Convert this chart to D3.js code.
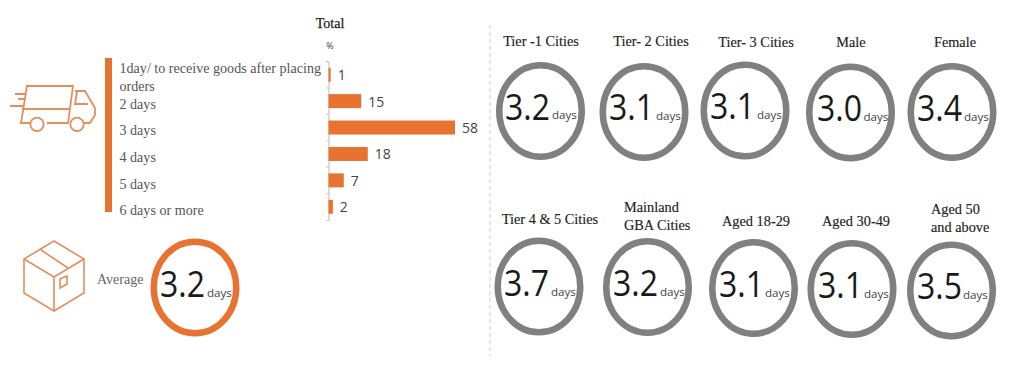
<!DOCTYPE html>
<html><head><meta charset="utf-8">
<script src="https://cdn.jsdelivr.net/npm/d3@7"></script>
<style>html,body{margin:0;background:#fff}svg{display:block}</style></head>
<body><svg id="c" width="1024" height="369"></svg>
<script>
// Data
const categories=["1day/ to receive goods after placing orders","2 days","3 days","4 days","5 days","6 days or more"];
const totals=[1,15,58,18,7,2];
const averageValue="3.2";
const groupNames=["Tier -1 Cities","Tier- 2 Cities","Tier- 3 Cities","Male","Female","Tier 4 & 5 Cities","Mainland GBA Cities","Aged 18-29","Aged 30-49","Aged 50 and above"];
const groupValues=["3.2","3.1","3.1","3.0","3.4","3.7","3.2","3.1","3.1","3.5"];
const unit="days";

// Layout (separate from data)
const orange="#E8722F",grey="#808080",serif="'Liberation Serif',serif",sans="'Open Sans','Noto Sans',sans-serif";
const wrap={"1day/ to receive goods after placing orders":["1day/ to receive goods after placing","orders"],"Mainland GBA Cities":["Mainland","GBA Cities"],"Aged 50 and above":["Aged 50","and above"]};
const ringPos=d3.scaleOrdinal().domain(groupNames).range([
 {cx:540.5,cy:111,nx:505,ny:120,dx:552,dy:119},
 {cx:644,cy:112,nx:609,ny:120,dx:656,dy:120},
 {cx:745,cy:110.5,nx:710,ny:119,dx:757,dy:119},
 {cx:850.5,cy:112.5,nx:817,ny:121,dx:863.5,dy:121},
 {cx:952,cy:112,nx:917,ny:121,dx:964,dy:121},
 {cx:539,cy:286.5,nx:504,ny:296,dx:551,dy:296},
 {cx:647.5,cy:287,nx:613,ny:296,dx:660,dy:296},
 {cx:753.5,cy:288,nx:719,ny:297,dx:765,dy:297},
 {cx:852,cy:289,nx:818,ny:298,dx:864,dy:298},
 {cx:951.5,cy:290.5,nx:917,ny:299,dx:963,dy:299}]);
const labelPos=d3.scaleOrdinal().domain(groupNames).range([
 {x:541,y:[46]},{x:651,y:[46]},{x:756,y:[47]},{x:851,y:[47]},{x:955,y:[47]},
 {x:550,y:[224]},{x:624,y:[212,230],left:true},{x:756,y:[226]},{x:856,y:[226]},{x:931,y:[214,232],left:true}]);
const catY=[[73,91],[109],[135],[162],[189],[215]];

const svg=d3.select("#c");
const x=d3.scaleLinear().domain([0,58]).range([328.5,455]);
const y=d3.scaleBand().domain(categories).range([61.5,220]);

const gAxis=svg.append("g").attr("transform","translate(328.5,0)").call(d3.axisLeft(y).tickSize(2).tickFormat(""));
gAxis.selectAll("line").attr("stroke","#bbb").attr("y1",-y.bandwidth()/2).attr("y2",-y.bandwidth()/2);
gAxis.select(".domain").attr("stroke","#bbb");

svg.selectAll("rect.b").data(totals).join("rect").attr("class","b")
 .attr("x",x(0)).attr("y",(d,i)=>y(categories[i])+y.bandwidth()/2-7)
 .attr("width",d=>x(d)-x(0)).attr("height",14).attr("fill",orange);
svg.selectAll("text.v").data(totals).join("text").attr("class","v")
 .attr("x",d=>x(d)+7).attr("y",(d,i)=>y(categories[i])+y.bandwidth()/2+5.5)
 .attr("font-family",sans).attr("font-size",14).attr("fill","#444").text(d=>d);

svg.append("rect").attr("x",105).attr("y",58).attr("width",7).attr("height",154).attr("fill",orange);
categories.forEach((c,i)=>(wrap[c]||[c]).forEach((t,j)=>svg.append("text").attr("x",119.5).attr("y",catY[i][j])
 .attr("font-family",serif).attr("font-size",14.1).attr("fill","#555").text(t)));

svg.append("text").attr("x",330).attr("y",28).attr("text-anchor","middle").attr("font-family",serif).attr("font-size",14)
 .attr("stroke","#222").attr("stroke-width",.25).attr("fill","#222").text("Total");
svg.append("text").attr("x",330).attr("y",49).attr("text-anchor","middle").attr("font-family",sans).attr("font-size",9).attr("fill","#444").text("%");
svg.append("line").attr("x1",490).attr("x2",490).attr("y1",25).attr("y2",356).attr("stroke","#ccc").attr("stroke-dasharray","4 3");

function ring(p,col,val){
  svg.append("ellipse").attr("cx",p.cx).attr("cy",p.cy).attr("rx",41.25).attr("ry",45.75).attr("fill","#fff").attr("stroke",col).attr("stroke-width",6.5);
  const n=svg.append("text").attr("font-family",sans).attr("font-size",37).attr("fill","#1a1a1a").text(val);
  const sx=45/n.node().getComputedTextLength();
  n.attr("transform",`translate(${p.nx},${p.ny}) scale(${sx},1)`);
  svg.append("text").attr("x",p.dx).attr("y",p.dy).attr("font-family",sans).attr("font-size",11.6).attr("fill","#444").text(unit);
}
groupNames.forEach((n,i)=>{
  ring(ringPos(n),grey,groupValues[i]);
  const l=labelPos(n);
  (wrap[n]||[n]).forEach((t,j)=>svg.append("text").attr("x",l.x).attr("y",l.y[j]).attr("text-anchor",l.left?"start":"middle")
   .attr("font-family",serif).attr("font-size",14.3).attr("fill","#222").attr("stroke","#222").attr("stroke-width",.15).text(t));
});
ring({cx:195,cy:287.5,nx:160,ny:297,dx:207,dy:297},orange,averageValue);
svg.append("text").attr("x",97).attr("y",284).attr("font-family",serif).attr("font-size",14).attr("fill","#666").text("Average");

const iconStroke=g=>g.attr("fill","none").attr("stroke","#E2905F").attr("stroke-width",1.8);
const truck=iconStroke(svg.append("g"));
truck.append("path").attr("d","M30 123H21L27 86H73L68 123H47M22 109H69M75 91H85L95 108V115L90 123H84M77 92L75 104H88M15 94H26M18 99H25M10 106H23");
truck.append("circle").attr("cx",37).attr("cy",124.3).attr("r",6.7);
truck.append("circle").attr("cx",77).attr("cy",124.3).attr("r",6.7);
const box=iconStroke(svg.append("g")).attr("stroke-width",1.6);
box.append("path").attr("d","M54 241L24 259V293L54 311L84 293V259ZM24 259L54 277L84 259M54 277V311M41 250L68 268M60 279L67 276V284L60 288Z");
</script></body></html>
